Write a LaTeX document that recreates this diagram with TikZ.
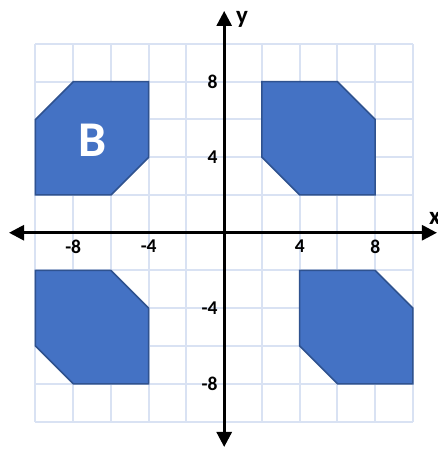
\documentclass[tikz,border=0pt]{standalone}
\usepackage{fontspec}
\setmainfont{Carlito}
\usetikzlibrary{arrows.meta}
\definecolor{gridblue}{HTML}{D9E2F3}
\definecolor{shapefill}{HTML}{4472C4}
\definecolor{shapeline}{HTML}{2F528F}
\tikzset{
  gridline/.style={draw=gridblue, line width=2pt},
  axisline/.style={draw=black, line width=2.8pt, {Triangle[length=15pt,width=15pt]}-{Triangle[length=15pt,width=15pt]}},
  octo/.style={fill=shapefill, draw=shapeline, line width=1.5pt, line join=miter},
  ylab/.style={anchor=east, inner sep=0pt, font=\fontsize{19.5}{20}\selectfont\bfseries},
  xlab/.style={anchor=north, inner sep=0pt, font=\fontsize{19.5}{20}\selectfont\bfseries},
  axlab/.style={anchor=base west, inner sep=0pt, font=\fontsize{25}{26}\selectfont\bfseries}
}
\begin{document}
\begin{tikzpicture}[x=18.875pt, y=18.875pt]
\useasboundingbox (-11.878,-11.457) rectangle (11.327,12.331);
% grid
\foreach \v in {-10,-8,...,10} {
  \draw[gridline] (\v,-10) -- (\v,10);
  \draw[gridline] (-10,\v) -- (10,\v);
}
% shapes
\draw[octo] (-8,8) -- (-4,8) -- (-4,4) -- (-6,2) -- (-10,2) -- (-10,6) -- cycle;
\draw[octo] (2,8) -- (6,8) -- (8,6) -- (8,2) -- (4,2) -- (2,4) -- cycle;
\draw[octo] (-10,-2) -- (-6,-2) -- (-4,-4) -- (-4,-8) -- (-8,-8) -- (-10,-6) -- cycle;
\draw[octo] (4,-2) -- (8,-2) -- (10,-4) -- (10,-8) -- (6,-8) -- (4,-6) -- cycle;
\node[text=white, inner sep=0pt, font=\fontsize{50}{52}\selectfont\bfseries] (B) at (-7,4.9) {B};
% axes
\coordinate (xl) at (-11.40,0);
\coordinate (xr) at (11.27,0);
\coordinate (yb) at (0,-11.35);
\coordinate (yt) at (0,11.75);
\draw[axisline] (xl) -- (xr);
\draw[axisline] (yb) -- (yt);
\node[axlab] (xlabel) at (10.85,0.45) {x};
\node[axlab] (ylabel) at (0.62,11.09) {y};
% tick labels
\node[ylab] (y8) at (-0.35,8) {8};
\node[ylab] (y4) at (-0.35,4) {4};
\node[ylab] (ym4) at (-0.35,-4) {-4};
\node[ylab] (ym8) at (-0.35,-8) {-8};
\node[xlab] (xm8) at (-8,-0.35) {-8};
\node[xlab] (xm4) at (-4,-0.35) {-4};
\node[xlab] (x4) at (4,-0.35) {4};
\node[xlab] (x8) at (8,-0.35) {8};
\end{tikzpicture}
\end{document}
